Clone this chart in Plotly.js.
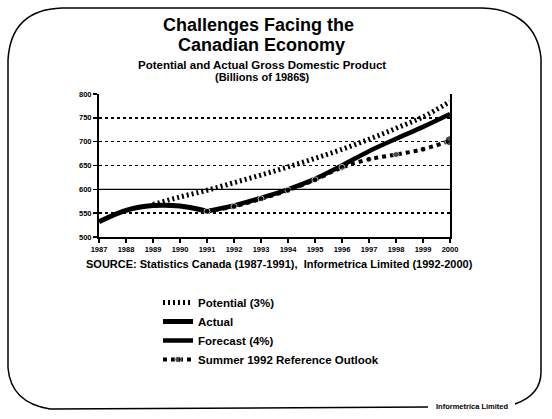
<!DOCTYPE html>
<html>
<head>
<meta charset="utf-8">
<script src="https://cdn.plot.ly/plotly-3.0.1.min.js"></script>
<style>html,body{margin:0;padding:0;background:#fff;}#chart{width:552px;height:419px;}</style>
</head>
<body>
<div id="chart"></div>
<script>
// ---- data ----
const years = [1987,1988,1989,1990,1991,1992,1993,1994,1995,1996,1997,1998,1999,2000];
const tickYears = ["1987","1988","1989","1990","1991","1992","1993","1994","1995","1996","1997","1998","1999","2000"];
const actualYears = [1987,1988,1989,1990,1991];
const actualValues = [532,556,566,565,554];
const potentialYears = [1989,1990,1991,1992,1993,1994,1995,1996,1997,1998,1999,2000];
const potentialValues = [568,584,598,614,630,647,665,684,705,728,752,784];
const forecastYears = [1991,1992,1993,1994,1995,1996,1997,1998,1999,2000];
const forecastValues = [554,566,582,600,622,650,680,706,731,758];
const outlookYears = [1991,1992,1993,1994,1995,1996,1997,1998,1999,2000];
const outlookValues = [554,564,580,598,620,646,663,673,684,702];
const seriesNames = ["Potential (3%)","Actual","Forecast (4%)","Summer 1992 Reference Outlook"];
const yTicks = [500,550,600,650,700,750,800];

// ---- layout helpers ----
const W = 552, H = 419;
const M = {l:99, r:102, t:94, b:182};
const PW = W - M.l - M.r, PH = H - M.t - M.b;
const px2x = p => (p - M.l) / PW;
const py2y = p => (H - M.b - p) / PH;
const FONT = "Liberation Sans, Arial, sans-serif";
const bold = (s, extra) => Object.assign({family: FONT, size: s, color: '#000', weight: 'bold'}, extra || {});

const outlookSizes = outlookValues.map((v, i) => i === outlookValues.length - 1 ? 10 : 6);

const traces = [
  {x: potentialYears, y: potentialValues, name: seriesNames[0], mode: 'lines', legendgroup: 'a',
   line: {color: '#000', width: 5, dash: '2px,3px', shape: 'spline'}},
  {x: actualYears, y: actualValues, name: seriesNames[1], mode: 'lines', legendgroup: 'b',
   line: {color: '#000', width: 5, shape: 'spline'}},
  {x: forecastYears, y: forecastValues, name: seriesNames[2], mode: 'lines', legendgroup: 'c',
   line: {color: '#000', width: 4.5, shape: 'spline'}},
  {x: outlookYears, y: outlookValues, name: seriesNames[3], mode: 'lines+markers', legendgroup: 'd',
   line: {color: '#000', width: 4, dash: 'dot', shape: 'spline'},
   marker: {color: '#000', size: outlookSizes, symbol: 'circle'}}
];

const framePath =
  'M ' + px2x(8) + ',' + py2y(60) +
  ' C ' + px2x(10) + ',' + py2y(25) + ' ' + px2x(30) + ',' + py2y(9) + ' ' + px2x(62) + ',' + py2y(8) +
  ' L ' + px2x(482) + ',' + py2y(8) +
  ' C ' + px2x(518) + ',' + py2y(9) + ' ' + px2x(538) + ',' + py2y(28) + ' ' + px2x(541) + ',' + py2y(58) +
  ' L ' + px2x(541) + ',' + py2y(372) +
  ' C ' + px2x(541) + ',' + py2y(388) + ' ' + px2x(532) + ',' + py2y(398) + ' ' + px2x(515) + ',' + py2y(404);
const frameLeft =
  'M ' + px2x(8) + ',' + py2y(60) +
  ' L ' + px2x(8) + ',' + py2y(368) +
  ' C ' + px2x(10) + ',' + py2y(392) + ' ' + px2x(25) + ',' + py2y(405) + ' ' + px2x(50) + ',' + py2y(409) +
  ' L ' + px2x(428) + ',' + py2y(407);

const layout = {
  width: W, height: H,
  margin: M,
  paper_bgcolor: '#fff', plot_bgcolor: '#fff',
  showlegend: true,
  legend: {x: px2x(158), y: py2y(288), xanchor: 'left', yanchor: 'top', font: bold(11.5),
           tracegroupgap: 0, bgcolor: 'rgba(0,0,0,0)', itemwidth: 30},
  xaxis: {range: [1987, 2000], tickvals: years, ticktext: tickYears, showgrid: false,
          showline: true, linecolor: '#000', linewidth: 2, ticks: 'outside', ticklen: 4,
          tickcolor: '#000', tickwidth: 1.5, tickfont: bold(7.5), zeroline: false, fixedrange: true},
  yaxis: {range: [500, 800], tickvals: yTicks, showgrid: true, gridcolor: '#000', gridwidth: 1.5,
          griddash: 'dot', showline: true, mirror: true, linecolor: '#000', linewidth: 2,
          ticks: 'outside', ticklen: 4, tickcolor: '#000', tickwidth: 1.5, tickfont: bold(7.5),
          zeroline: false, fixedrange: true},
  shapes: [
    {type: 'line', xref: 'paper', yref: 'y', x0: 0, x1: 1, y0: 600, y1: 600, line: {color: '#000', width: 1.2}},
    {type: 'path', xref: 'paper', yref: 'paper', path: framePath, line: {color: '#000', width: 1.5}},
    {type: 'path', xref: 'paper', yref: 'paper', path: frameLeft, line: {color: '#000', width: 1.5}}
  ],
  annotations: [
    {text: 'Challenges Facing the', xref: 'paper', yref: 'paper', x: px2x(258), y: py2y(25), showarrow: false, font: bold(18), xanchor: 'center', yanchor: 'middle'},
    {text: 'Canadian Economy', xref: 'paper', yref: 'paper', x: px2x(261), y: py2y(45), showarrow: false, font: bold(18), xanchor: 'center', yanchor: 'middle'},
    {text: 'Potential and Actual Gross Domestic Product', xref: 'paper', yref: 'paper', x: px2x(262), y: py2y(65), showarrow: false, font: bold(11.5), xanchor: 'center', yanchor: 'middle'},
    {text: '(Billions of 1986$)', xref: 'paper', yref: 'paper', x: px2x(262), y: py2y(77), showarrow: false, font: bold(11), xanchor: 'center', yanchor: 'middle'},
    {text: 'SOURCE: Statistics Canada (1987-1991),  Informetrica Limited (1992-2000)', xref: 'paper', yref: 'paper', x: px2x(279), y: py2y(264), showarrow: false, font: bold(11), xanchor: 'center', yanchor: 'middle'},
    {text: 'Informetrica Limited', xref: 'paper', yref: 'paper', x: px2x(472), y: py2y(406), showarrow: false, font: bold(7.5), xanchor: 'center', yanchor: 'middle'}
  ]
};

Plotly.newPlot('chart', traces, layout, {staticPlot: true, displayModeBar: false});
</script>
</body>
</html>
